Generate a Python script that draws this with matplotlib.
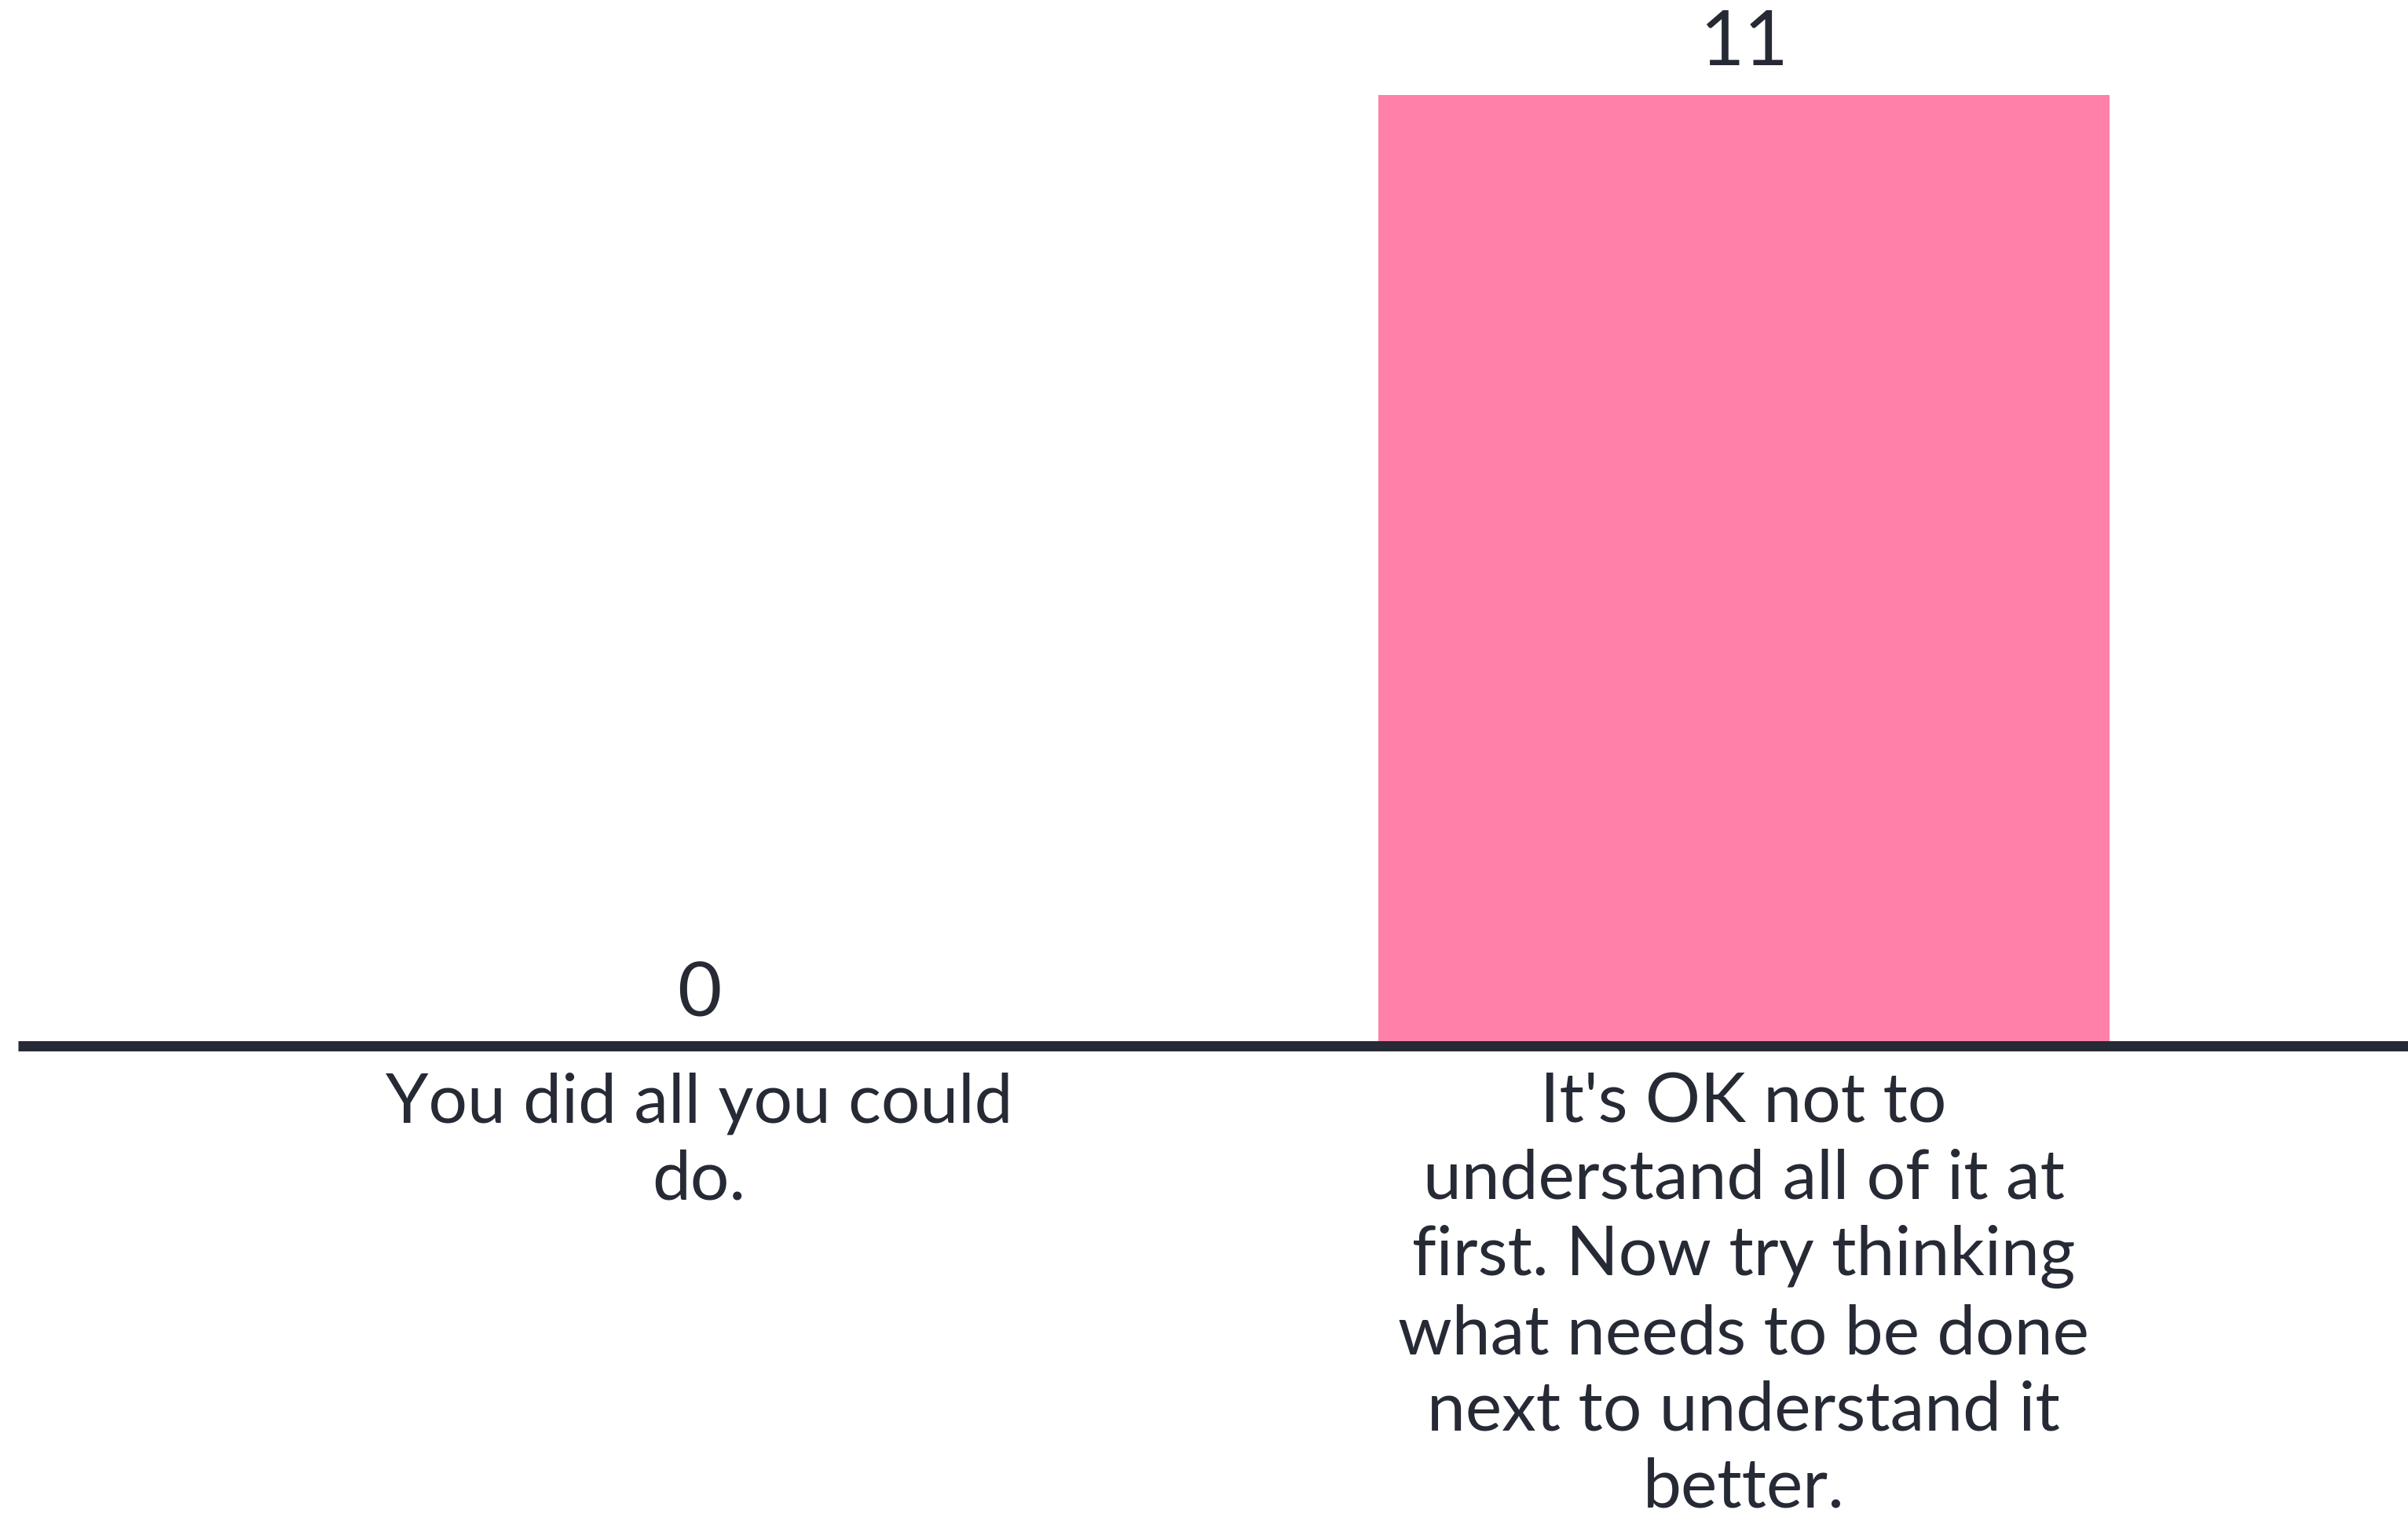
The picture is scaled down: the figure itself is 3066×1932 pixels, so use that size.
import matplotlib
matplotlib.use("Agg")
import matplotlib.pyplot as plt

# answers and how many picked each one
categories = [
    "You did all you could\ndo.",
    "It's OK not to\nunderstand all of it at\nfirst. Now try thinking\nwhat needs to be done\nnext to understand it\nbetter.",
]
counts = [0, 11]

BAR_COLOR = "#ff80a8"
INK = "#262a35"

plt.rcParams['font.family'] = ['Lato', 'DejaVu Sans']

fig = plt.figure(figsize=(30.66, 19.32), dpi=100)
ax = fig.add_axes([0.0075, 0.3106, 0.9925, 0.6268])

xs = list(range(len(categories)))
ax.bar(xs, counts, width=0.7, color=BAR_COLOR, zorder=1)

for x, v in zip(xs, counts):
    ax.annotate(str(v), (x, v), xytext=(0, 27), textcoords="offset points",
                ha="center", va="baseline", fontsize=70, color=INK,
                annotation_clip=False)

ax.set_xlim(-0.652, 1.636)
ax.set_ylim(0, 11)

ax.set_xticks(xs)
ax.set_xticklabels(categories, fontsize=63, color=INK, linespacing=1.29)
ax.tick_params(axis="x", length=0, pad=24)
ax.set_yticks([])

for side in ["top", "right", "left"]:
    ax.spines[side].set_visible(False)
ax.spines["bottom"].set_color(INK)
ax.spines["bottom"].set_linewidth(9.4)
ax.spines["bottom"].set_capstyle("butt")

fig.savefig("out.png", dpi=100, facecolor="white")
